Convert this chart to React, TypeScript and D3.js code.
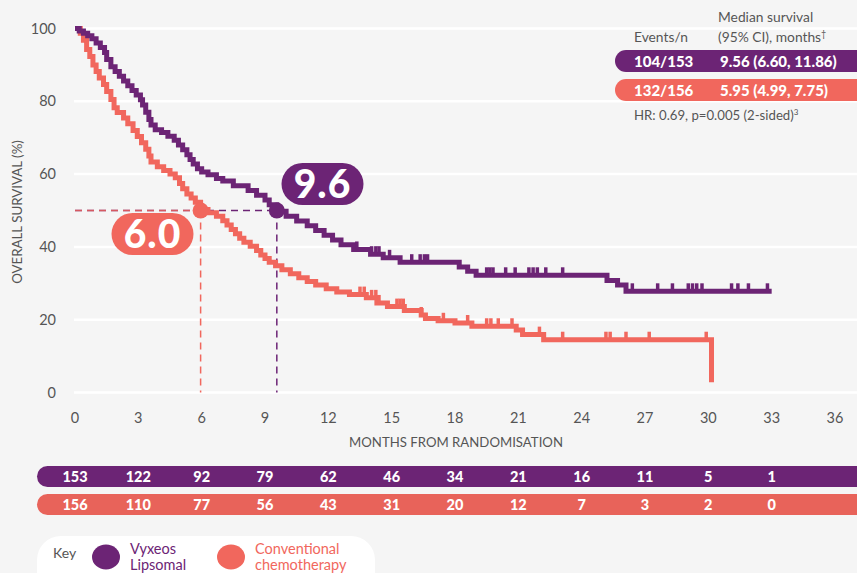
import React from "react";
import * as d3 from "d3";

const W = 857;
const H = 573;

const xTicks = [0, 3, 6, 9, 12, 15, 18, 21, 24, 27, 30, 33, 36];
const yTicks = [0, 20, 40, 60, 80, 100];

// Vyxeos step data: [month, survival %]
const vyxeosSteps: [number, number][] = [
  [0, 100], [0.2, 99.3], [0.4, 98.7], [0.6, 98], [0.8, 97.2], [1.0, 96], [1.2, 94.8], [1.4, 93.4],
  [1.5, 91.5], [1.7, 89.5], [1.9, 88.2], [2.1, 86.9], [2.3, 85.6], [2.5, 84.3], [2.7, 83],
  [2.9, 81.7], [3.1, 80.4], [3.2, 79], [3.35, 77], [3.5, 75], [3.6, 73.5], [3.8, 72.2],
  [4.1, 71.4], [4.4, 70.4], [4.7, 69.3], [4.9, 68], [5.1, 66.7], [5.3, 65.3], [5.45, 64],
  [5.6, 62.8], [5.8, 61.5], [6.0, 60.6], [6.3, 59.8], [6.7, 58.8], [7.0, 58.1], [7.5, 56.8],
  [8.2, 55.5], [8.6, 54.2], [9.0, 52.9], [9.2, 51.6], [9.56, 49.8], [10.0, 48.4], [10.5, 47.1],
  [11.0, 45.8], [11.4, 44.5], [11.8, 43.2], [12.2, 41.9], [12.6, 40.6], [13.2, 39.3],
  [14.0, 38.0], [14.6, 37.0], [15.4, 35.8], [18.2, 34.5], [18.6, 33.3], [19.0, 32.2],
  [25.2, 30.8], [25.7, 29.5], [26.1, 27.8], [33.0, 27.8],
];

const vyxeosCensors = [
  13.35, 14.05, 14.25, 14.4, 14.9, 15.95, 16.35, 16.55, 16.7, 19.5, 19.65, 19.8, 20.4, 20.85,
  21.5, 21.7, 21.9, 22.3, 23.1, 26.4, 27.6, 28.3, 29.05, 29.25, 29.45, 29.7, 31.1, 31.4, 31.9, 32.8,
];

// Conventional chemotherapy step data
const conventionalSteps: [number, number][] = [
  [0, 100], [0.25, 98.7], [0.4, 96.8], [0.55, 94.2], [0.7, 92.3], [0.85, 90], [1.0, 88.2],
  [1.15, 86.4], [1.35, 84.6], [1.5, 82.7], [1.7, 80.5], [1.85, 78.2], [2.0, 76.9], [2.3, 75.4],
  [2.5, 73.8], [2.75, 72], [2.95, 70.3], [3.15, 68.6], [3.35, 66.8], [3.5, 65], [3.6, 63.3],
  [3.9, 62], [4.2, 61], [4.5, 60], [4.75, 59], [4.95, 57.4], [5.1, 56], [5.3, 54.5],
  [5.5, 53.4], [5.7, 52.3], [5.95, 50.3], [6.3, 49.4], [6.7, 48.4], [7.0, 47.2], [7.2, 46],
  [7.4, 44.8], [7.6, 43.6], [7.8, 42.4], [8.0, 41.3], [8.3, 40.2], [8.6, 39], [8.8, 37.8],
  [9.0, 36.8], [9.2, 35.8], [9.5, 34.8], [9.8, 33.7], [10.2, 32.6], [10.6, 31.5], [11.0, 30.5],
  [11.4, 29.5], [11.9, 28.5], [12.4, 27.6], [13.0, 26.9], [13.8, 26.0], [14.3, 24.6],
  [14.8, 23.6], [15.6, 22.5], [16.4, 21.3], [16.6, 20.3], [17.2, 19.7], [18.0, 19.1],
  [18.8, 18.2], [20.9, 17.2], [21.2, 15.9], [22.2, 14.5], [30.15, 14.5], [30.15, 2.8],
];

const conventionalCensors = [
  13.5, 13.7, 14.05, 14.25, 14.4, 15.25, 15.4, 15.55, 16.4, 17.45, 18.6, 19.5, 19.7, 20.05,
  20.7, 22.0, 23.1, 25.15, 25.35, 26.1, 27.2, 29.9,
];

const medianVyxeos = 9.56;
const medianConventional = 5.95;
const vyxeosLabel = "9.6";
const conventionalLabel = "6.0";

const riskVyxeos = [153, 122, 92, 79, 62, 46, 34, 21, 16, 11, 5, 1];
const riskConventional = [156, 110, 77, 56, 43, 31, 20, 12, 7, 3, 2, 0];
const riskMonths = [0, 3, 6, 9, 12, 15, 18, 21, 24, 27, 30, 33];

const legendRows = [
  { events: "104/153", median: "9.56 (6.60, 11.86)" },
  { events: "132/156", median: "5.95 (4.99, 7.75)" },
];

const PURPLE = "#6c2475";
const CORAL = "#f1675d";
const CORAL_BAR = "#e8635a";
const GRAY = "#555";
const FONT = "Lato, 'Open Sans', sans-serif";

export default function App() {
  const x = d3.scaleLinear().domain([0, 36]).range([75, 835]);
  const y = d3.scaleLinear().domain([0, 100]).range([392.5, 28.5]);

  const line = d3
    .line<[number, number]>()
    .x((d) => x(d[0]))
    .y((d) => y(d[1]))
    .curve(d3.curveStepAfter);

  const levelAt = (steps: [number, number][], t: number) => {
    let v = steps[0][1];
    for (const s of steps) if (s[0] <= t) v = s[1];
    return v;
  };

  const censorMarks = (steps: [number, number][], cs: number[], color: string) =>
    cs.map((t, i) => {
      const v = levelAt(steps, t);
      return (
        <line
          key={i}
          x1={x(t)}
          x2={x(t)}
          y1={y(v)}
          y2={y(v) - 8}
          stroke={color}
          strokeWidth={3.5}
        />
      );
    });

  return (
    <svg
      width={W}
      height={H}
      style={{ position: "absolute", left: 0, top: 0, background: "#f5f5f5", fontFamily: FONT }}
    >
      <rect x={0} y={0} width={W} height={H} fill="#f5f5f5" />
      {/* gridlines */}
      {yTicks.map((t) => (
        <line key={t} x1={74} x2={W} y1={y(t)} y2={y(t)} stroke="#ffffff" strokeWidth={2.5} />
      ))}
      {/* y tick labels */}
      {yTicks.map((t) => (
        <text key={t} x={56} y={y(t) + 5} textAnchor="end" fontSize={14.5} fill={GRAY}>
          {t}
        </text>
      ))}
      <text
        transform={`translate(22,${212}) rotate(-90)`}
        textAnchor="middle"
        fontSize={13.3}
        fill={GRAY}
      >
        OVERALL SURVIVAL (%)
      </text>
      {/* x tick labels */}
      {xTicks.map((t) => (
        <text key={t} x={x(t)} y={423} textAnchor="middle" fontSize={14.5} fill={GRAY}>
          {t}
        </text>
      ))}
      <text x={456} y={447} textAnchor="middle" fontSize={13.2} fill={GRAY}>
        MONTHS FROM RANDOMISATION
      </text>

      {/* median dashed lines */}
      <line x1={x(0)} x2={x(medianVyxeos)} y1={y(50)} y2={y(50)} stroke={PURPLE} strokeWidth={1.5} strokeDasharray="7,5" />
      <line x1={x(0)} x2={x(medianConventional)} y1={y(50)} y2={y(50)} stroke={CORAL} strokeWidth={1.5} strokeDasharray="7,5" strokeOpacity={0.8} />
      <line x1={x(medianVyxeos)} x2={x(medianVyxeos)} y1={y(50)} y2={y(0)} stroke={PURPLE} strokeWidth={1.5} strokeDasharray="7,5" />
      <line x1={x(medianConventional)} x2={x(medianConventional)} y1={y(50)} y2={y(0)} stroke={CORAL} strokeWidth={1.5} strokeDasharray="7,5" />

      {/* curves */}
      <path d={line(conventionalSteps) || ""} fill="none" stroke={CORAL} strokeWidth={5} />
      {censorMarks(conventionalSteps, conventionalCensors, CORAL)}
      <path d={line(vyxeosSteps) || ""} fill="none" stroke={PURPLE} strokeWidth={5} />
      {censorMarks(vyxeosSteps, vyxeosCensors, PURPLE)}

      {/* median dots */}
      <circle cx={x(medianConventional)} cy={y(50)} r={8} fill={CORAL} />
      <circle cx={x(medianVyxeos)} cy={y(50)} r={8} fill={PURPLE} />

      {/* median labels */}
      <rect x={281.5} y={163} width={82} height={42} rx={21} fill={PURPLE} />
      <text x={322.5} y={198} textAnchor="middle" fontSize={39} fontWeight={900} fill="#fff" letterSpacing={1}>
        {vyxeosLabel}
      </text>
      <rect x={111.5} y={213} width={82} height={42} rx={21} fill={CORAL} />
      <text x={152.5} y={248} textAnchor="middle" fontSize={39} fontWeight={900} fill="#fff" letterSpacing={1}>
        {conventionalLabel}
      </text>

      {/* legend top-right */}
      <text x={634} y={42} fontSize={13.8} fill={GRAY}>Events/n</text>
      <text x={718} y={22} fontSize={13.8} fill={GRAY}>Median survival</text>
      <text x={718} y={42} fontSize={13.8} fill={GRAY}>
        (95% CI), months<tspan fontSize={9} dy={-5}>†</tspan>
      </text>
      {legendRows.map((r, i) => (
        <g key={i}>
          <rect x={615} y={50 + i * 29} width={260} height={22} rx={11} fill={i === 0 ? PURPLE : CORAL} />
          <text x={634} y={66.5 + i * 29} fontSize={15} fontWeight={900} fill="#fff">{r.events}</text>
          <text x={720} y={66.5 + i * 29} fontSize={15} fontWeight={900} fill="#fff">{r.median}</text>
        </g>
      ))}
      <text x={634} y={120} fontSize={13.2} fill={GRAY}>
        HR: 0.69, p=0.005 (2-sided)<tspan fontSize={8} dy={-5}>3</tspan>
      </text>

      {/* risk table */}
      <rect x={37} y={466} width={840} height={21} rx={10.5} fill={PURPLE} />
      <rect x={37} y={494} width={840} height={21} rx={10.5} fill={CORAL_BAR} />
      {riskMonths.map((m, i) => (
        <g key={m}>
          <text x={x(m)} y={482} textAnchor="middle" fontSize={14.5} fontWeight={900} fill="#fff">
            {riskVyxeos[i]}
          </text>
          <text x={x(m)} y={510} textAnchor="middle" fontSize={14.5} fontWeight={900} fill="#fff">
            {riskConventional[i]}
          </text>
        </g>
      ))}

      {/* key */}
      <rect x={37} y={536} width={338} height={60} rx={24} fill="#ffffff" />
      <text x={53} y={558} fontSize={14} fill={GRAY}>Key</text>
      <ellipse cx={106} cy={557} rx={14} ry={12.5} fill={PURPLE} />
      <text x={130} y={554} fontSize={14.5} fill={PURPLE}>Vyxeos</text>
      <text x={130} y={570} fontSize={14.5} fill={PURPLE}>Lipsomal</text>
      <ellipse cx={231} cy={557} rx={14} ry={12.5} fill={CORAL} />
      <text x={255} y={554} fontSize={14.5} fill={CORAL}>Conventional</text>
      <text x={255} y={570} fontSize={14.5} fill={CORAL}>chemotherapy</text>
    </svg>
  );
}
